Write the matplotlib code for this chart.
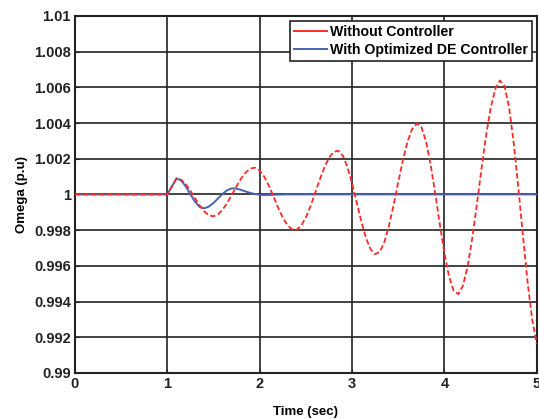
import matplotlib.pyplot as plt
from matplotlib.lines import Line2D
import numpy as np

plt.rcParams['font.family'] = ['Liberation Sans', 'DejaVu Sans']
plt.rcParams['font.weight'] = 'bold'

# Without controller
t_red = [0.0, 1.00, 1.05, 1.10, 1.15, 1.20, 1.25, 1.30, 1.35, 1.40, 1.45, 1.50,
         1.55, 1.60, 1.65, 1.70, 1.75, 1.80, 1.85, 1.90, 1.95, 2.00, 2.05, 2.10,
         2.15, 2.20, 2.25, 2.30, 2.35, 2.40, 2.45, 2.50, 2.55, 2.60, 2.65, 2.70,
         2.75, 2.80, 2.85, 2.90, 2.95, 3.00, 3.05, 3.10, 3.15, 3.20, 3.25, 3.30,
         3.35, 3.40, 3.45, 3.50, 3.55, 3.60, 3.65, 3.70, 3.75, 3.80, 3.85, 3.90,
         3.95, 4.00, 4.05, 4.10, 4.15, 4.20, 4.25, 4.30, 4.35, 4.40, 4.45, 4.50,
         4.55, 4.60, 4.65, 4.70, 4.75, 4.80, 4.85, 4.90, 4.95, 5.00]
w_red = [1.0, 1.0, 1.00045, 1.0009, 1.00082, 1.00057, 1.00021, 0.99979, 0.99938,
         0.99904, 0.99883, 0.99877, 0.99889, 0.99915, 0.99954, 0.99999, 1.00047,
         1.00090, 1.00124, 1.00145, 1.00150, 1.00134, 1.00099, 1.00048, 0.99988,
         0.99926, 0.99870, 0.99828, 0.99804, 0.99802, 0.99825, 0.99871, 0.99934,
         1.00008, 1.00083, 1.00151, 1.00205, 1.00238, 1.00245, 1.00217, 1.00153,
         1.00062, 0.99955, 0.99849, 0.99757, 0.99693, 0.99665, 0.99678, 0.99734,
         0.99826, 0.99942, 1.00069, 1.00192, 1.00295, 1.00366, 1.00397, 1.00378,
         1.00298, 1.00168, 1.00006, 0.99832, 0.99670, 0.99540, 0.99460, 0.99441,
         0.99488, 0.99595, 0.99751, 0.99940, 1.00139, 1.00328, 1.00484, 1.00591,
         1.00638, 1.00608, 1.00486, 1.00287, 1.00037, 0.99766, 0.99508, 0.99297,
         0.99162]

# With optimized DE controller
t_blue = [0.0, 1.00, 1.05, 1.10, 1.15, 1.20, 1.25, 1.30, 1.35, 1.40, 1.45, 1.50,
          1.55, 1.60, 1.65, 1.70, 1.75, 1.80, 1.85, 1.90, 1.95, 2.00, 2.05, 2.10,
          2.20, 2.30, 5.00]
w_blue = [1.0, 1.0, 1.00045, 1.0009, 1.00078, 1.00045, 1.00001, 0.99959, 0.99930,
          0.99922, 0.99932, 0.99952, 0.99978, 1.00004, 1.00024, 1.00034, 1.00032,
          1.00025, 1.00016, 1.00008, 1.00002, 0.99998, 0.99996, 0.99997, 0.99999,
          1.0, 1.0]

labels = ['Without Controller', 'With Optimized DE Controller']
red = '#ff2a2a'
blue = '#4a62b4'

fig = plt.figure(figsize=(5.39, 4.19), dpi=100)
ax = fig.add_axes([0.139, 0.110, 0.857, 0.852])

ax.plot(t_blue, w_blue, color=blue, lw=1.4, zorder=3)
ax.plot(t_red, w_red, color=red, lw=1.3, ls=(0, (3, 1.5)), zorder=4)

ax.set_xlim(0, 5)
ax.set_ylim(0.99, 1.01)
ax.set_xticks(np.arange(0, 6, 1))
ax.set_yticks(np.arange(0.99, 1.0101, 0.002))
ax.set_yticklabels(['0.99', '0.992', '0.994', '0.996', '0.998', '1',
                    '1.002', '1.004', '1.006', '1.008', '1.01'])
ax.grid(True, color='#222222', lw=1.2, ls='-')
ax.set_axisbelow(True)
for s in ax.spines.values():
    s.set_linewidth(1.5)
    s.set_color('#222222')
ax.tick_params(direction='in', length=3, labelsize=10.5, colors='#222222', pad=3)

ax.set_xlabel('Time (sec)', fontsize=9.5, fontweight='bold', labelpad=11)
ax.set_ylabel('Omega (p.u)', fontsize=9.5, fontweight='bold', labelpad=4)

handles = [Line2D([], [], color=red, lw=1.4), Line2D([], [], color=blue, lw=1.4)]
leg = ax.legend(handles, labels, loc='upper right', fontsize=10.2, framealpha=1,
                fancybox=False, edgecolor='#222222', handlelength=2.3,
                handletextpad=0.2, borderpad=0.3, labelspacing=0.25,
                borderaxespad=0.35)
leg.get_frame().set_linewidth(1.2)

fig.savefig('out.png', dpi=100)
